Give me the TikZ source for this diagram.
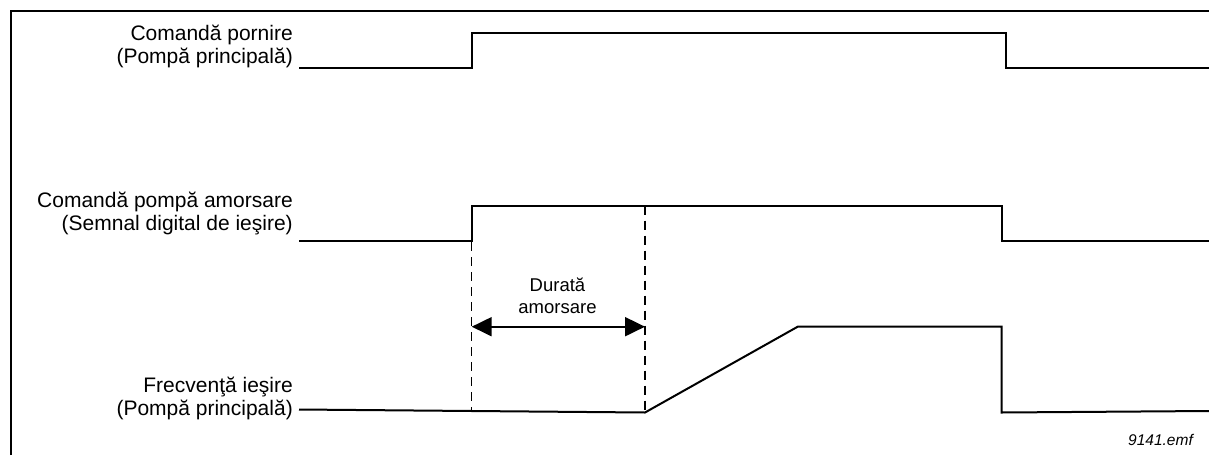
\documentclass[tikz,border=0pt]{standalone}
\usepackage{fontspec}
\setmainfont{Liberation Sans}
\usetikzlibrary{arrows.meta}

\begin{document}
\begin{tikzpicture}[
    x=1pt, y=-1pt,
    signal/.style={draw=black, line width=2pt, line join=miter},
    guide/.style={draw=black, line width=1.3pt, dash pattern=on 9pt off 6pt},
    spanarrow/.style={draw=black, line width=2pt, {Triangle[length=20pt, width=19pt]}-{Triangle[length=20pt, width=19pt]}},
    frameline/.style={draw=black, line width=2.8pt},
    sigtext/.style={align=right, anchor=east, inner sep=0pt, font=\fontsize{21}{22.5}\selectfont},
    durtext/.style={align=center, inner sep=0pt, font=\fontsize{18.5}{21.5}\selectfont},
    filetext/.style={anchor=east, inner sep=0pt, font=\fontsize{15.5}{17}\selectfont\itshape}
]
\useasboundingbox (0,0) rectangle (1209,455);

% --- Cadru ---
\draw[frameline] (11,455) -- (11,11) -- (1209,11);

% --- Etichete semnale ---
\node[sigtext] (Lbl1) at (293, 46.5) {Comandă pornire\\(Pompă principală)};
\node[sigtext] (Lbl2) at (293, 213.5) {Comandă pompă amorsare\\(Semnal digital de ieşire)};
\node[sigtext] (Lbl3) at (293, 398.5) {Frecvenţă ieşire\\(Pompă principală)};

% --- Momente de timp ---
\coordinate (T_on) at (471.7, 0);
\coordinate (T_prime) at (645, 0);
\coordinate (T_ramp) at (797.7, 0);
\coordinate (T_off1) at (1005.7, 0);
\coordinate (T_off2) at (1001.7, 0);

% --- Comandă pornire ---
\coordinate (S1_start) at (299, 67.7);
\coordinate (S1_end) at (1209, 67.7);
\draw[signal] (S1_start) -- (T_on |- S1_start) -- (T_on |- 0,33.3)
    -- (T_off1 |- 0,33.3) -- (T_off1 |- S1_end) -- (S1_end);

% --- Comandă pompă amorsare ---
\coordinate (S2_start) at (299, 240.5);
\coordinate (S2_end) at (1209, 240.5);
\coordinate (S2_high) at (0, 205.7);
\draw[signal] (S2_start) -- (T_on |- S2_start) -- (T_on |- S2_high)
    -- (T_off2 |- S2_high) -- (T_off2 |- S2_end) -- (S2_end);

% --- Frecvenţă ieşire ---
\coordinate (S3_start) at (299, 409.5);
\coordinate (S3_low) at (645, 412.5);
\coordinate (S3_top) at (797.7, 326.7);
\coordinate (S3_end) at (1209, 411);
\draw[signal] (S3_start) -- (S3_low) -- (S3_top) -- (T_off2 |- S3_top)
    -- (T_off2 |- 0,412.5) -- (S3_end);

% --- Linii ajutătoare ---
\draw[guide] (T_on |- 0,242) -- (T_on |- 0,412);
\draw[guide] (T_prime |- S2_high) -- (S3_low);

% --- Durată amorsare ---
\coordinate (D_left) at (471.7, 326.7);
\coordinate (D_right) at (645, 326.7);
\draw[spanarrow] (D_left) -- (D_right);
\node[durtext] (DurLbl) at (557.5, 296) {Durată\\amorsare};

\node[filetext] (FileLbl) at (1193, 440) {9141.emf};
\end{tikzpicture}
\end{document}
